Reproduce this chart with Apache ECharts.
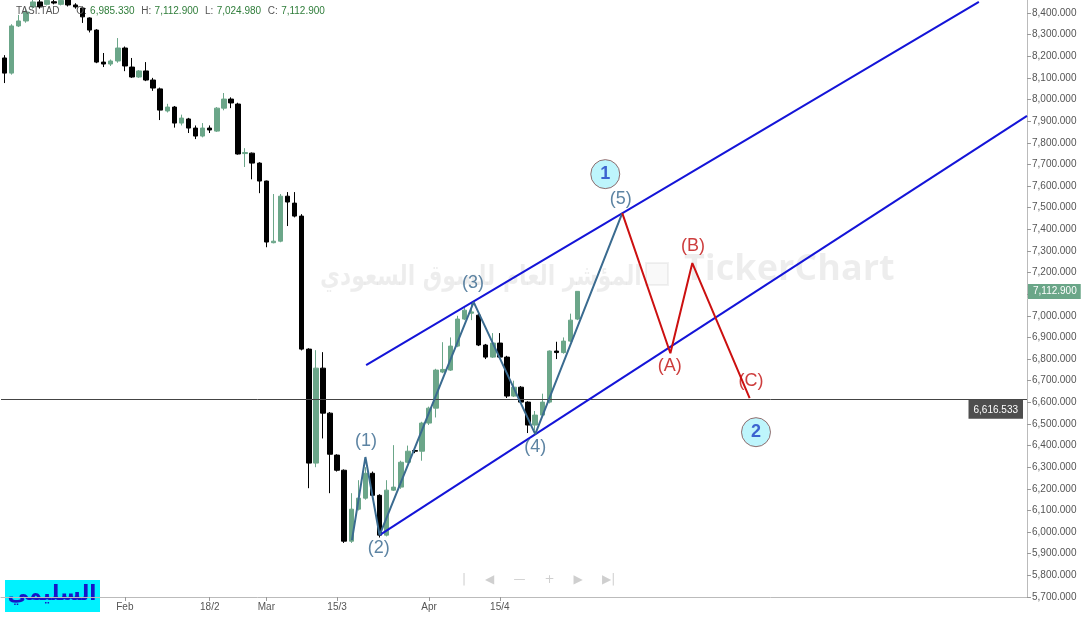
<!DOCTYPE html>
<html><head><meta charset="utf-8">
<script src="https://cdn.jsdelivr.net/npm/echarts@6/dist/echarts.min.js"></script>
<style>html,body{margin:0;padding:0;background:#fff}#c{width:1084px;height:617px}</style>
</head><body><div id="c"></div><script>
// ---- trading days (Sun–Thu) ----
const janDays = [8,9,12,13,14,15,16,19,20,21,22,23,26,27,28,29,30];
const febDays = [2,3,4,5,6,9,10,11,12,13,16,17,18,19,20,23,24,25,26,27];
const marDays = [1,2,3,4,5,8,9,10,11,12,15,16,17,18,19,22,23,24,25,26,29,30,31];
const aprDays = [1,2,5,6,7,8,9,12,13,14,15,16,19,20,21,22,23,26,27,28,29,30];
const futureSlots = 63;
const axisLabels = {'2020-02-02':'Feb','2020-02-18':'18/2','2020-03-01':'Mar','2020-03-15':'15/3','2020-04-01':'Apr','2020-04-15':'15/4'};

// ---- OHLC ----
const opens  = [8192,8122,8340,8363,8428,8451,8440,8452,8440,8462,8437,8423,8377,8321,8173,8164,8178,8238,8150,8104,8132,8090,8049,7947,7965,7891,7910,7868,7831,7868,7854,7960,8002,7979,7750,7752,7706,7623,7338,7345,7553,7521,7461,6846,6319,6758,6550,6356,6286,5958,6106,6157,6272,6170,5986,6194,6208,6323,6377,6374,6504,6573,6740,6749,6860,6985,7012,7003,6865,6809,6874,6809,6629,6670,6601,6495,6541,6601,6837,6830,6883,6985];
const highs  = [8205,8348,8391,8420,8470,8462,8470,8462,8468,8470,8445,8430,8380,8325,8215,8185,8284,8245,8192,8136,8173,8100,8055,7980,7970,7930,7915,7880,7891,7880,7965,8030,8010,7985,7775,7755,7710,7625,7563,7563,7572,7572,7470,6850,6841,6832,6555,6360,6290,6180,6240,6300,6280,6175,6240,6402,6330,6400,6385,6510,6580,6755,6878,6900,7000,7040,7060,7010,6870,6920,6920,6815,6700,6675,6605,6560,6640,6840,6880,6900,7010,7113];
const lows   = [8076,8115,8335,8355,8420,8420,8435,8440,8435,8430,8420,8354,8310,8168,8150,8155,8170,8131,8100,8100,8085,8040,7905,7940,7870,7880,7845,7817,7825,7845,7850,7950,7960,7745,7688,7631,7567,7317,7335,7340,7415,7455,6840,6203,6300,6433,6180,6280,5950,5950,6100,6150,6165,5975,5980,6190,6200,6318,6365,6330,6495,6530,6735,6745,6855,6980,6980,6860,6800,6805,6805,6620,6625,6595,6458,6470,6535,6595,6800,6825,6878,6980];
const closes = [8122,8340,8363,8405,8451,8428,8458,8446,8458,8437,8428,8382,8321,8173,8164,8178,8238,8155,8104,8132,8090,8053,7951,7965,7891,7914,7868,7831,7868,7859,7960,8002,7984,7748,7755,7706,7623,7341,7345,7553,7526,7461,6846,6319,6758,6550,6360,6286,5958,6106,6157,6272,6170,5986,6194,6208,6323,6374,6374,6504,6573,6749,6752,6860,6985,7026,7018,6865,6809,6874,6809,6629,6670,6601,6495,6541,6601,6837,6830,6883,6980,7113];

// ---- annotations (index on slot axis, price) ----
const upperChannel = [[51.1,6772],[137.7,8451]];
const lowerChannel = [[53.0,5986],[144.5,7924]];
const impulseWave  = [[49.1,5963],[51.0,6347],[53.0,5986],[66.3,7063],[75.0,6453],[87.3,7475]];
const correctionWave = [[87.3,7475],[94.1,6827],[97.2,7244],[105.3,6619]];
const impulseLabels = [[51.1,6420,'(1)'],[52.9,5926,'(2)'],[66.2,7151,'(3)'],[75.0,6393,'(4)'],[87.1,7540,'(5)']];
const correctionLabels = [[94.0,6767,'(A)'],[97.3,7322,'(B)'],[105.5,6698,'(C)']];
const degreeLabels = [[84.9,7655,'1'],[106.2,6462,'2']];
const lastLine = 6616.533;
const lastClose = 7112.9;

// ---- build categories ----
function pad(n){return (n<10?'0':'')+n;}
const categories = [];
janDays.forEach(d=>categories.push('2020-01-'+pad(d)));
febDays.forEach(d=>categories.push('2020-02-'+pad(d)));
marDays.forEach(d=>categories.push('2020-03-'+pad(d)));
aprDays.forEach(d=>categories.push('2020-04-'+pad(d)));
(function(){
  let dt = new Date(Date.UTC(2020,3,30));
  let n = 0;
  while(n<futureSlots){
    dt = new Date(dt.getTime()+86400000);
    const wd = dt.getUTCDay();
    if(wd===5||wd===6) continue;
    categories.push(dt.toISOString().slice(0,10));
    n++;
  }
})();
const N = categories.length;
const candleData = opens.map((o,i)=>[o,closes[i],lows[i],highs[i]]);

const chart = echarts.init(document.getElementById('c'));
const FONT = 'Liberation Sans, Arial, sans-serif';
const fmt = v => Number(v).toLocaleString('en-US',{minimumFractionDigits:3,maximumFractionDigits:3});

chart.setOption({
  animation:false,
  backgroundColor:'#fff',
  grid:{left:1,right:57,top:0,bottom:20},
  xAxis:[{
    type:'category', data:categories, boundaryGap:true,
    axisLine:{onZero:false,lineStyle:{color:'#bbb'}},
    axisTick:{show:true,alignWithLabel:true,length:4,lineStyle:{color:'#999'},
      interval:(i,v)=>axisLabels[v]!==undefined},
    axisLabel:{interval:(i,v)=>axisLabels[v]!==undefined, formatter:v=>axisLabels[v]||'',
      color:'#555',fontSize:10,fontFamily:FONT,margin:5},
    splitLine:{show:false}
  },{
    type:'value', min:-0.5, max:N-0.5, show:false
  }],
  yAxis:[{
    type:'value', position:'right', min:5700, max:8460, interval:100,
    axisLine:{show:true,onZero:false,lineStyle:{color:'#bbb'}},
    axisTick:{show:true,length:4,lineStyle:{color:'#999'}},
    axisLabel:{color:'#555',fontSize:10,fontFamily:FONT,margin:5,showMaxLabel:false,formatter:fmt},
    splitLine:{show:false}
  }],
  graphic:[
    {type:'text',left:320,top:264,z:-10,silent:true,scaleX:0.78,
      style:{text:'المؤشر العام للسوق السعودي',font:'bold 28px DejaVu Sans',fill:'rgba(0,0,0,0.07)'}},
    {type:'rect',left:645,top:262,z:-10,silent:true,shape:{width:22,height:22},
      style:{fill:'rgba(0,0,0,0.025)',stroke:'rgba(0,0,0,0.05)',lineWidth:2}},
    {type:'text',left:684,top:252,z:-10,silent:true,
      style:{text:'TickerChart',font:'bold 36px Open Sans',fill:'rgba(0,0,0,0.07)'}},
    {type:'text',left:16,top:5,z:50,
      style:{text:'{k|TASI.TAD}     {k|O:} {v|6,985.330}  {k|H:} {v|7,112.900}  {k|L:} {v|7,024.980}  {k|C:} {v|7,112.900}',
        rich:{k:{fill:'#555',fontSize:10,fontFamily:FONT},v:{fill:'#2f7d3a',fontSize:10,fontFamily:FONT}}}},
    {type:'group',left:5,top:580,z:50,children:[
      {type:'rect',shape:{x:0,y:0,width:95,height:32},style:{fill:'#00f2ff'}},
      {type:'text',style:{text:'السليمي',x:47,y:15,align:'center',verticalAlign:'middle',font:'bold 21px DejaVu Sans',fill:'#1616c8'}}
    ]},
    {type:'text',left:462,top:574,z:50,
      style:{text:'|     ◀     —     +     ▶     ▶|',font:'12px DejaVu Sans',fill:'#cfcfcf'}}
  ],
  series:[
    {type:'candlestick', xAxisIndex:0, yAxisIndex:0, data:candleData, barWidth:5,
      itemStyle:{color:'#6ba689',color0:'#000000',borderColor:'#6ba689',borderColor0:'#000000',borderWidth:1},
      markLine:{symbol:'none',silent:true,animation:false,
        data:[
          {yAxis:lastLine,lineStyle:{color:'#444',width:1,type:'solid'},
            label:{show:true,position:'insideEndBottom',formatter:()=>fmt(lastLine),color:'#fff',
              backgroundColor:'#4e4e4e',padding:[5,5,4,5],fontSize:10,fontFamily:FONT,distance:[4,1]}},
          {yAxis:lastClose,lineStyle:{color:'rgba(0,0,0,0)',width:0},
            label:{show:true,position:'end',formatter:()=>fmt(lastClose),color:'#fff',
              backgroundColor:'#6aa688',padding:[3,4,2,5],fontSize:10,fontFamily:FONT,distance:1}}
        ]}
    },
    {type:'line',xAxisIndex:1,yAxisIndex:0,data:upperChannel,symbol:'none',clip:true,
      lineStyle:{color:'#1414d8',width:2},z:5},
    {type:'line',xAxisIndex:1,yAxisIndex:0,data:lowerChannel,symbol:'none',clip:true,
      lineStyle:{color:'#1414d8',width:2},z:5},
    {type:'line',xAxisIndex:1,yAxisIndex:0,data:impulseWave,symbol:'none',
      lineStyle:{color:'#3a6b90',width:2},z:6},
    {type:'line',xAxisIndex:1,yAxisIndex:0,data:correctionWave,symbol:'none',
      lineStyle:{color:'#cc1010',width:2},z:6},
    {type:'scatter',xAxisIndex:1,yAxisIndex:0,data:impulseLabels,symbolSize:2,itemStyle:{color:'rgba(0,0,0,0)'},z:7,
      label:{show:true,position:'inside',formatter:p=>p.data[2],color:'#35658c',fontSize:18,fontFamily:FONT}},
    {type:'scatter',xAxisIndex:1,yAxisIndex:0,data:correctionLabels,symbolSize:2,itemStyle:{color:'rgba(0,0,0,0)'},z:7,
      label:{show:true,position:'inside',formatter:p=>p.data[2],color:'#c00d0d',fontSize:18,fontFamily:FONT}},
    {type:'scatter',xAxisIndex:1,yAxisIndex:0,data:degreeLabels,symbolSize:29,z:8,
      itemStyle:{color:'#aef2fb',borderColor:'#7d4b4b',borderWidth:1},
      label:{show:true,position:'inside',formatter:p=>p.data[2],color:'#1b3ec4',fontSize:18,fontWeight:'bold',fontFamily:FONT}}
  ]
});
</script></body></html>
